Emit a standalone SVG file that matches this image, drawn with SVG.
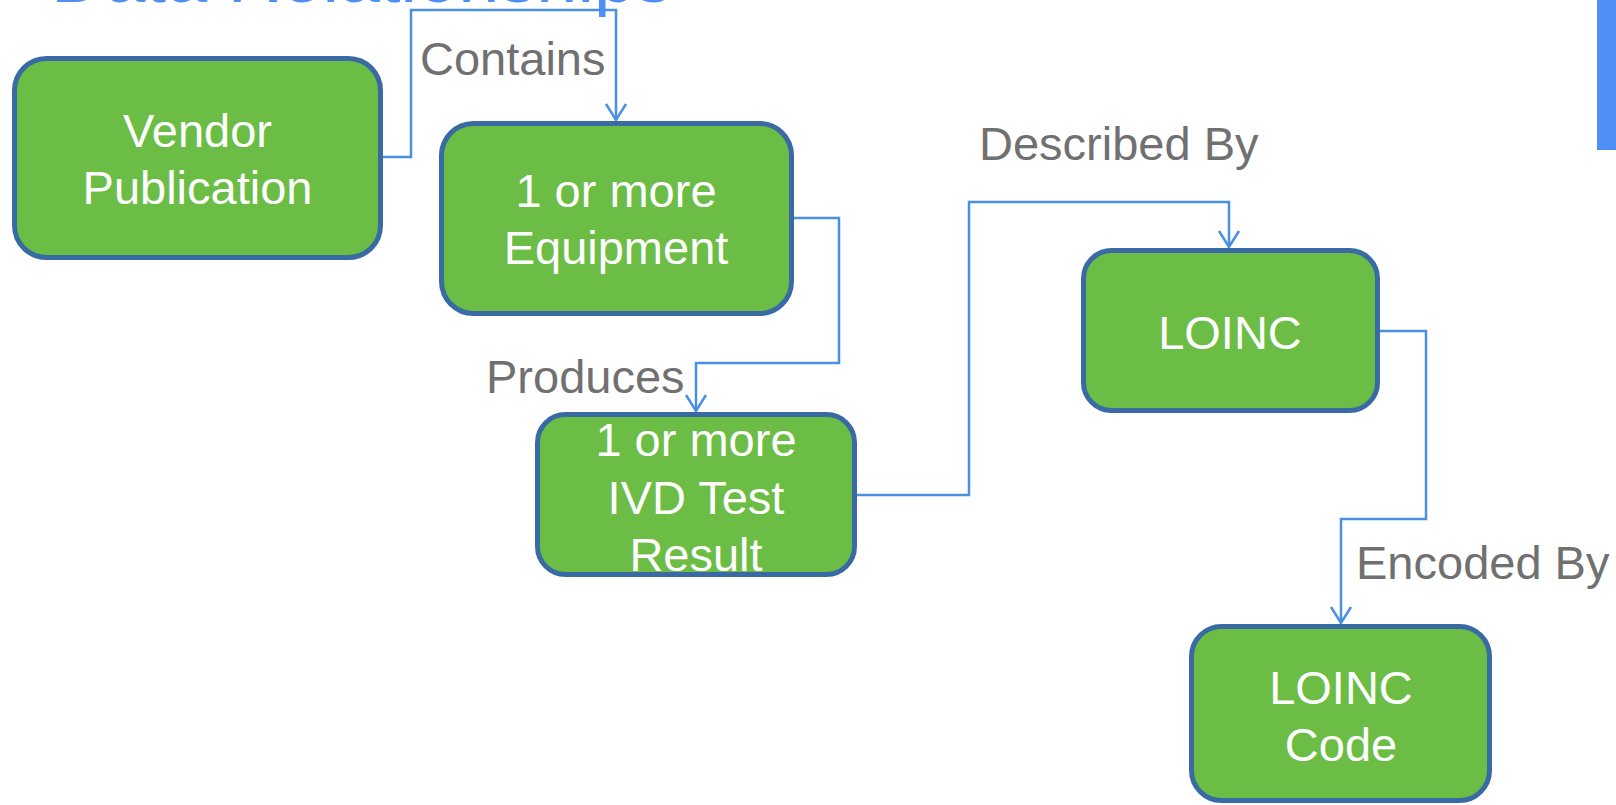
<svg xmlns="http://www.w3.org/2000/svg" width="1616" height="805" viewBox="0 0 1616 805">
  <defs>
    <style>
      .box { fill: #6BBD45; stroke: #3A6AA3; stroke-width: 5; }
      .ntext { fill: #FFFFFF; font-family: "Liberation Sans", Arial, sans-serif; font-size: 47px; text-anchor: middle; }
      .label { fill: #707070; font-family: "Liberation Sans", Arial, sans-serif; font-size: 47px; }
      .conn { fill: none; stroke: #4A90E2; stroke-width: 2.5; marker-end: url(#arrow); }
      .title { fill: #4F8FF5; font-family: "Liberation Sans", Arial, sans-serif; font-size: 74px; }
    </style>
    <marker id="arrow" markerUnits="userSpaceOnUse" markerWidth="26" markerHeight="24" viewBox="0 0 26 24" refX="21" refY="12" orient="auto">
      <path d="M5,2 L21,12 L5,22" fill="none" stroke="#4A90E2" stroke-width="2.5"/>
    </marker>
  </defs>
  <rect width="1616" height="805" fill="#FFFFFF"/>
  <text class="title" x="51" y="2">Data Relationships</text>
  <rect x="1597" y="0" width="19" height="150" fill="#4F8FF5"/>

  <g id="connectors">
    <path class="conn" d="M383,157 H411 V10 H616 V120"/>
    <path class="conn" d="M794,218 H839 V363 H696 V411"/>
    <path class="conn" d="M857,495 H969 V202 H1229 V247"/>
    <path class="conn" d="M1380,331 H1426 V519 H1341 V623"/>
    <text class="label" x="420" y="75">Contains</text>
    <text class="label" x="486" y="393">Produces</text>
    <text class="label" x="979" y="160">Described By</text>
    <text class="label" x="1356" y="579">Encoded By</text>
  </g>

  <g id="vendor-publication">
    <rect class="box" x="14.5" y="58.5" width="366" height="199" rx="32"/>
    <text class="ntext" x="197.5" y="147">Vendor</text>
    <text class="ntext" x="197.5" y="204">Publication</text>
  </g>
  <g id="equipment">
    <rect class="box" x="441.5" y="123.5" width="350" height="190" rx="32"/>
    <text class="ntext" x="616" y="207">1 or more</text>
    <text class="ntext" x="616" y="264">Equipment</text>
  </g>
  <g id="ivd-test-result">
    <rect class="box" x="537.5" y="414.5" width="317" height="160" rx="28"/>
    <text class="ntext" x="696" y="456">1 or more</text>
    <text class="ntext" x="696" y="514">IVD Test</text>
    <text class="ntext" x="696" y="571">Result</text>
  </g>
  <g id="loinc">
    <rect class="box" x="1083.5" y="250.5" width="294" height="160" rx="28"/>
    <text class="ntext" x="1230" y="349">LOINC</text>
  </g>
  <g id="loinc-code">
    <rect class="box" x="1191.5" y="626.5" width="298" height="174" rx="30"/>
    <text class="ntext" x="1341" y="704">LOINC</text>
    <text class="ntext" x="1341" y="761">Code</text>
  </g>
</svg>
